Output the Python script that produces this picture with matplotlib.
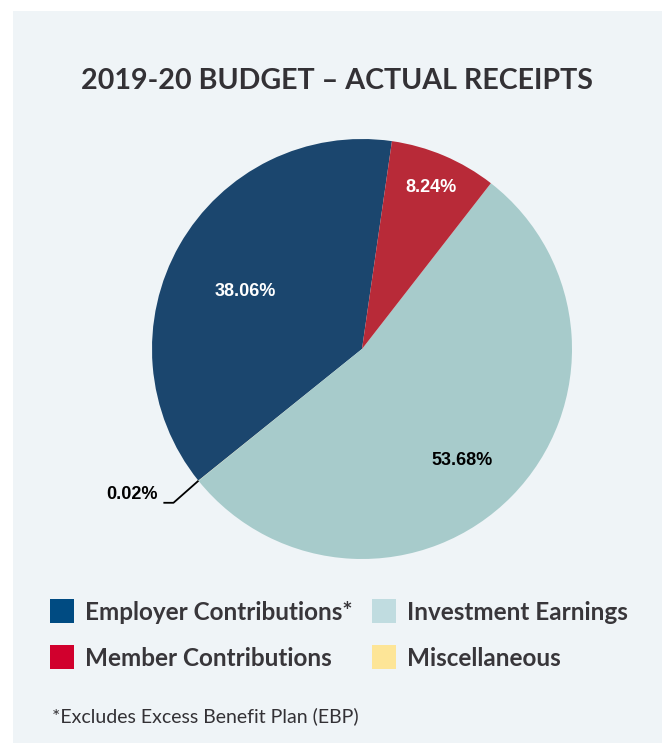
import matplotlib
matplotlib.use("Agg")
import matplotlib.pyplot as plt
from matplotlib.patches import Rectangle
import numpy as np

title = "2019-20 BUDGET \u2013 ACTUAL RECEIPTS"
categories = ["Employer Contributions*", "Miscellaneous", "Investment Earnings", "Member Contributions"]
values = [38.06, 0.02, 53.68, 8.24]
labels = ["38.06%", "0.02%", "53.68%", "8.24%"]
pie_colors = ["#1b466e", "#fde59a", "#a7cbcb", "#b82a38"]
legend_colors = {"Employer Contributions*": "#004b82", "Investment Earnings": "#c0dce0",
                 "Member Contributions": "#d1002d", "Miscellaneous": "#fde597"}
legend_rows = [["Employer Contributions*", "Investment Earnings"],
               ["Member Contributions", "Miscellaneous"]]
footnote = "*Excludes Excess Benefit Plan (EBP)"

W, H = 662, 743
fig = plt.figure(figsize=(W / 100, H / 100), dpi=100)
fig.patch.set_facecolor("white")
fig.patches.append(Rectangle((13 / W, 0), 1, 1 - 11 / H, transform=fig.transFigure,
                             facecolor="#eff4f7", edgecolor="none", zorder=-10))

cx, cy, r = 362, 349, 210
ax = fig.add_axes([(cx - r) / W, (H - cy - r) / H, 2 * r / W, 2 * r / H])
ax.set_facecolor("none")
wedges, _ = ax.pie(values, colors=pie_colors, startangle=81.8, counterclock=True,
                   wedgeprops=dict(linewidth=0, edgecolor="none"))
ax.set_xlim(-1, 1)
ax.set_ylim(-1, 1)
ax.set_aspect("equal")
ax.axis("off")

# (radius fraction, angle offset in degrees) for the in-slice labels
label_place = [(0.62, 3.7), None, (0.714, -3.7), (0.835, 0.0)]
for w, lab, place in zip(wedges, labels, label_place):
    mid = (w.theta1 + w.theta2) / 2
    if place is None:
        theta = np.deg2rad(mid)
        x0, y0 = np.cos(theta), np.sin(theta)
        ax.plot([x0, x0 - 0.119, x0 - 0.167], [y0, y0 - 0.105, y0 - 0.105],
                color="black", lw=1.3, solid_capstyle="butt", clip_on=False)
        ax.text(x0 - 0.195, y0 - 0.064, lab, ha="right", va="center",
                fontsize=13, fontweight="bold", family="Liberation Sans", color="black")
    else:
        rf, dth = place
        theta = np.deg2rad(mid + dth)
        col = "black" if lab == "53.68%" else "white"
        ax.text(rf * np.cos(theta), rf * np.sin(theta), lab, ha="center", va="center",
                fontsize=13, fontweight="bold", family="Liberation Sans", color=col)

fig.text(337 / W, 1 - 81 / H, title, ha="center", va="center", fontsize=20.6,
         fontweight="bold", family="Lato", color="#333135")

sq = 24
col_x = [50, 372]
row_y = [611, 657]
for ri, row in enumerate(legend_rows):
    for ci, name in enumerate(row):
        x, y = col_x[ci], row_y[ri]
        fig.patches.append(Rectangle((x / W, 1 - (y + sq / 2) / H), sq / W, sq / H,
                                     transform=fig.transFigure,
                                     facecolor=legend_colors[name], edgecolor="none"))
        fig.text((x + sq + 11) / W, 1 - (y + 1) / H, name, ha="left", va="center",
                 fontsize=17.5, fontweight="bold", family="Lato", color="#38363a")

fig.text(52 / W, 1 - 716 / H, footnote, ha="left", va="center", fontsize=14,
         family="Lato", color="#333135")

fig.savefig("out.png", dpi=100, facecolor=fig.get_facecolor())
